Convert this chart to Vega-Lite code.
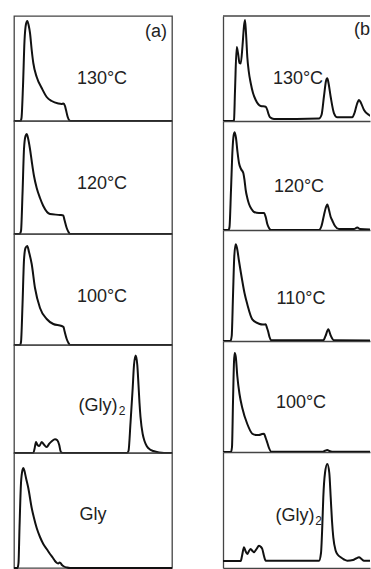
{
"$schema":"https://vega.github.io/schema/vega-lite/v6.json",
"background":"white",
"padding":{"left":9,"top":15,"right":0,"bottom":2},
"autosize":{"type":"pad"},
"config":{"view":{"stroke":"#444","strokeWidth":1.3},"axis":{"domain":false,"ticks":false,"labels":false,"grid":false,"minExtent":0,"maxExtent":0},"text":{"font":"Liberation Sans","fontSize":18,"color":"#222"}},
"datasets":{
"curves":[
{"p":"a1","x":0,"y":0},{"p":"a1","x":6.5,"y":0},{"p":"a1","x":7.5,"y":3},{"p":"a1","x":9,"y":35},{"p":"a1","x":10.5,"y":80},{"p":"a1","x":12,"y":97},{"p":"a1","x":13.3,"y":100},{"p":"a1","x":14.8,"y":95},{"p":"a1","x":16,"y":88},{"p":"a1","x":17.7,"y":71},{"p":"a1","x":19.3,"y":58},{"p":"a1","x":22.7,"y":44},{"p":"a1","x":27.7,"y":33},{"p":"a1","x":32.7,"y":24},{"p":"a1","x":37.7,"y":20},{"p":"a1","x":44.3,"y":17.5},{"p":"a1","x":47.5,"y":17},{"p":"a1","x":49.5,"y":17.5},{"p":"a1","x":51,"y":15},{"p":"a1","x":52,"y":11},{"p":"a1","x":53.7,"y":4},{"p":"a1","x":55.5,"y":0.5},{"p":"a1","x":57,"y":0},{"p":"a1","x":158,"y":0},
{"p":"a2","x":0,"y":0},{"p":"a2","x":5.5,"y":0},{"p":"a2","x":7,"y":3},{"p":"a2","x":8.5,"y":40},{"p":"a2","x":10,"y":85},{"p":"a2","x":11.5,"y":98},{"p":"a2","x":12.7,"y":100},{"p":"a2","x":14,"y":96},{"p":"a2","x":16,"y":85},{"p":"a2","x":17.7,"y":73},{"p":"a2","x":20,"y":58},{"p":"a2","x":22.7,"y":46},{"p":"a2","x":26,"y":36},{"p":"a2","x":29.3,"y":28},{"p":"a2","x":36,"y":20},{"p":"a2","x":46,"y":19},{"p":"a2","x":49.3,"y":18.5},{"p":"a2","x":50.5,"y":14},{"p":"a2","x":52.7,"y":6},{"p":"a2","x":54.5,"y":2},{"p":"a2","x":56,"y":0},{"p":"a2","x":158,"y":0},
{"p":"a3","x":0,"y":0},{"p":"a3","x":6,"y":0},{"p":"a3","x":7,"y":3},{"p":"a3","x":8.5,"y":40},{"p":"a3","x":10,"y":85},{"p":"a3","x":11.5,"y":97},{"p":"a3","x":13.3,"y":99},{"p":"a3","x":15,"y":93},{"p":"a3","x":17.7,"y":81},{"p":"a3","x":21,"y":57},{"p":"a3","x":26,"y":37},{"p":"a3","x":32.7,"y":26},{"p":"a3","x":39.3,"y":21},{"p":"a3","x":47.7,"y":19},{"p":"a3","x":49.5,"y":18},{"p":"a3","x":50.5,"y":14},{"p":"a3","x":52.7,"y":6},{"p":"a3","x":54.5,"y":2},{"p":"a3","x":56,"y":0},{"p":"a3","x":158,"y":0},
{"p":"a4","x":0,"y":0},{"p":"a4","x":19.3,"y":0},{"p":"a4","x":20.5,"y":4},{"p":"a4","x":22,"y":11},{"p":"a4","x":23.5,"y":8},{"p":"a4","x":25.3,"y":7},{"p":"a4","x":27.7,"y":11},{"p":"a4","x":29.5,"y":9},{"p":"a4","x":32.7,"y":6},{"p":"a4","x":35.3,"y":9.3},{"p":"a4","x":38,"y":12},{"p":"a4","x":41,"y":13.7},{"p":"a4","x":43.3,"y":12.7},{"p":"a4","x":45.3,"y":7.7},{"p":"a4","x":46.5,"y":2},{"p":"a4","x":47.7,"y":0.3},{"p":"a4","x":50,"y":0},{"p":"a4","x":113,"y":0},{"p":"a4","x":114.5,"y":2},{"p":"a4","x":116.5,"y":30},{"p":"a4","x":118.7,"y":65},{"p":"a4","x":120,"y":88},{"p":"a4","x":121.7,"y":97.5},{"p":"a4","x":123.3,"y":88},{"p":"a4","x":124.5,"y":68},{"p":"a4","x":125.5,"y":50},{"p":"a4","x":126.5,"y":36},{"p":"a4","x":128.7,"y":19},{"p":"a4","x":130.5,"y":12},{"p":"a4","x":132.7,"y":7},{"p":"a4","x":136,"y":3.5},{"p":"a4","x":139.3,"y":2},{"p":"a4","x":145,"y":0.5},{"p":"a4","x":150,"y":0},{"p":"a4","x":158,"y":0},
{"p":"a5","x":0,"y":0},{"p":"a5","x":3.5,"y":0},{"p":"a5","x":4.5,"y":5},{"p":"a5","x":5.5,"y":40},{"p":"a5","x":7,"y":85},{"p":"a5","x":8.5,"y":98},{"p":"a5","x":9.3,"y":100},{"p":"a5","x":10.5,"y":97},{"p":"a5","x":12,"y":90},{"p":"a5","x":14.3,"y":80},{"p":"a5","x":17.7,"y":60},{"p":"a5","x":20,"y":50},{"p":"a5","x":22.7,"y":40},{"p":"a5","x":26,"y":31},{"p":"a5","x":29.3,"y":24},{"p":"a5","x":32.7,"y":19},{"p":"a5","x":36,"y":14},{"p":"a5","x":39,"y":10},{"p":"a5","x":41,"y":7},{"p":"a5","x":43,"y":5},{"p":"a5","x":44.3,"y":4.5},{"p":"a5","x":45.5,"y":5.5},{"p":"a5","x":46.5,"y":5},{"p":"a5","x":48,"y":3},{"p":"a5","x":50,"y":1.5},{"p":"a5","x":53,"y":0.5},{"p":"a5","x":56,"y":0},{"p":"a5","x":158,"y":0},
{"p":"b1","x":0,"y":0},{"p":"b1","x":10,"y":0},{"p":"b1","x":11,"y":1},{"p":"b1","x":12,"y":30},{"p":"b1","x":13.7,"y":74},{"p":"b1","x":15,"y":68},{"p":"b1","x":16.5,"y":58},{"p":"b1","x":17.7,"y":57.5},{"p":"b1","x":19.5,"y":75},{"p":"b1","x":21,"y":95},{"p":"b1","x":22,"y":101},{"p":"b1","x":23,"y":88},{"p":"b1","x":24.3,"y":64},{"p":"b1","x":25.7,"y":50},{"p":"b1","x":27.7,"y":38},{"p":"b1","x":30,"y":28},{"p":"b1","x":32.7,"y":21},{"p":"b1","x":37.7,"y":15},{"p":"b1","x":42.7,"y":14.3},{"p":"b1","x":44.3,"y":11},{"p":"b1","x":45.5,"y":7},{"p":"b1","x":47,"y":3.7},{"p":"b1","x":51,"y":2},{"p":"b1","x":96,"y":2.5},{"p":"b1","x":98.5,"y":6},{"p":"b1","x":101,"y":25},{"p":"b1","x":103,"y":40},{"p":"b1","x":104.3,"y":42.7},{"p":"b1","x":105.5,"y":38},{"p":"b1","x":107.7,"y":24},{"p":"b1","x":111,"y":7.7},{"p":"b1","x":114.3,"y":3.7},{"p":"b1","x":129.3,"y":3.7},{"p":"b1","x":131.5,"y":8},{"p":"b1","x":134,"y":17},{"p":"b1","x":136,"y":21},{"p":"b1","x":138,"y":18},{"p":"b1","x":141,"y":11},{"p":"b1","x":146,"y":6},{"p":"b1","x":150,"y":4},
{"p":"b2","x":0,"y":0},{"p":"b2","x":5.5,"y":0},{"p":"b2","x":6.5,"y":3},{"p":"b2","x":8,"y":40},{"p":"b2","x":9.5,"y":80},{"p":"b2","x":10.7,"y":95},{"p":"b2","x":11.7,"y":97.8},{"p":"b2","x":13,"y":92},{"p":"b2","x":14.5,"y":78},{"p":"b2","x":16,"y":67},{"p":"b2","x":18,"y":61},{"p":"b2","x":20.3,"y":57},{"p":"b2","x":21.5,"y":50},{"p":"b2","x":22.7,"y":40},{"p":"b2","x":24.3,"y":32},{"p":"b2","x":26,"y":26},{"p":"b2","x":28.5,"y":21},{"p":"b2","x":31,"y":18},{"p":"b2","x":36,"y":17},{"p":"b2","x":41,"y":17},{"p":"b2","x":42.7,"y":13},{"p":"b2","x":44.3,"y":6},{"p":"b2","x":46,"y":2},{"p":"b2","x":48.3,"y":0},{"p":"b2","x":96,"y":0},{"p":"b2","x":98.5,"y":4},{"p":"b2","x":101,"y":15},{"p":"b2","x":102.7,"y":22},{"p":"b2","x":104.3,"y":25.5},{"p":"b2","x":106,"y":20},{"p":"b2","x":107.7,"y":13},{"p":"b2","x":109.3,"y":9.5},{"p":"b2","x":112,"y":4},{"p":"b2","x":116,"y":1},{"p":"b2","x":131,"y":1},{"p":"b2","x":134.3,"y":2.5},{"p":"b2","x":137,"y":1},{"p":"b2","x":150,"y":0.5},
{"p":"b3","x":0,"y":0},{"p":"b3","x":7.5,"y":0},{"p":"b3","x":8.7,"y":5},{"p":"b3","x":10,"y":45},{"p":"b3","x":11.3,"y":85},{"p":"b3","x":12.7,"y":96.7},{"p":"b3","x":14,"y":93},{"p":"b3","x":16,"y":80},{"p":"b3","x":19.3,"y":60},{"p":"b3","x":21.5,"y":48},{"p":"b3","x":24.3,"y":36.7},{"p":"b3","x":29.3,"y":21.7},{"p":"b3","x":36,"y":17.3},{"p":"b3","x":40,"y":16.5},{"p":"b3","x":42.7,"y":16.7},{"p":"b3","x":44,"y":13},{"p":"b3","x":45,"y":10},{"p":"b3","x":46.5,"y":4},{"p":"b3","x":48.3,"y":0.7},{"p":"b3","x":100.3,"y":0.7},{"p":"b3","x":102.5,"y":5},{"p":"b3","x":105.3,"y":11.7},{"p":"b3","x":107.5,"y":6},{"p":"b3","x":109.5,"y":2},{"p":"b3","x":111,"y":0.7},{"p":"b3","x":150,"y":0.5},
{"p":"b4","x":0,"y":0},{"p":"b4","x":8,"y":0},{"p":"b4","x":9,"y":5},{"p":"b4","x":10,"y":50},{"p":"b4","x":11,"y":90},{"p":"b4","x":11.7,"y":99},{"p":"b4","x":12.8,"y":95},{"p":"b4","x":14.3,"y":76},{"p":"b4","x":16.5,"y":58},{"p":"b4","x":19.3,"y":44},{"p":"b4","x":24.3,"y":28},{"p":"b4","x":29.3,"y":18.3},{"p":"b4","x":33,"y":17},{"p":"b4","x":36,"y":17},{"p":"b4","x":39,"y":18},{"p":"b4","x":41,"y":18.3},{"p":"b4","x":42.7,"y":14},{"p":"b4","x":44.3,"y":9.3},{"p":"b4","x":46,"y":4},{"p":"b4","x":48.3,"y":0.3},{"p":"b4","x":100,"y":0.3},{"p":"b4","x":102,"y":1.3},{"p":"b4","x":104.3,"y":2},{"p":"b4","x":106.5,"y":1},{"p":"b4","x":109,"y":0.3},{"p":"b4","x":150,"y":0.3},
{"p":"b5","x":0,"y":0},{"p":"b5","x":17.7,"y":0},{"p":"b5","x":19,"y":5},{"p":"b5","x":21,"y":13.7},{"p":"b5","x":22.5,"y":10},{"p":"b5","x":24.3,"y":7},{"p":"b5","x":26,"y":10},{"p":"b5","x":27.7,"y":12},{"p":"b5","x":29.5,"y":10},{"p":"b5","x":31,"y":8.7},{"p":"b5","x":33.5,"y":12},{"p":"b5","x":36,"y":15.3},{"p":"b5","x":38,"y":14},{"p":"b5","x":39.3,"y":12},{"p":"b5","x":41,"y":5},{"p":"b5","x":42.7,"y":0.3},{"p":"b5","x":96,"y":0.3},{"p":"b5","x":98,"y":8},{"p":"b5","x":99.3,"y":35},{"p":"b5","x":100.3,"y":63.7},{"p":"b5","x":102,"y":88},{"p":"b5","x":104.3,"y":97},{"p":"b5","x":106.3,"y":88},{"p":"b5","x":107.7,"y":63.7},{"p":"b5","x":109,"y":40},{"p":"b5","x":110.3,"y":23.7},{"p":"b5","x":112.7,"y":10.3},{"p":"b5","x":115,"y":6},{"p":"b5","x":117.7,"y":3.7},{"p":"b5","x":121,"y":1.5},{"p":"b5","x":124.3,"y":0.3},{"p":"b5","x":130,"y":1},{"p":"b5","x":133,"y":2.5},{"p":"b5","x":136,"y":3.7},{"p":"b5","x":138.5,"y":2},{"p":"b5","x":141,"y":0.3},{"p":"b5","x":150,"y":0.3}
],
"labels":[
{"p":"a1","x":88,"y":42,"t":"130°C"},{"p":"a2","x":88,"y":50,"t":"120°C"},{"p":"a3","x":88,"y":48,"t":"100°C"},{"p":"a4","x":84,"y":47,"t":"(Gly)"},{"p":"a5","x":79,"y":53,"t":"Gly"},
{"p":"b1","x":75,"y":42,"t":"130°C"},{"p":"b2","x":76,"y":43,"t":"120°C"},{"p":"b3","x":78,"y":42,"t":"110°C"},{"p":"b4","x":78,"y":49,"t":"100°C"},{"p":"b5","x":72,"y":45,"t":"(Gly)"}
],
"subs":[{"p":"a4","x":108,"y":42,"t":"2"},{"p":"b5","x":95.5,"y":40,"t":"2"}],
"tags":[{"p":"a1","x":153,"y":89,"t":"(a)"},{"p":"b1","x":131,"y":91,"t":"(b)"}]
},
"hconcat":[
{"vconcat":[
{"width":158,"height":105,"layer":[
{"data":{"name":"curves"},"transform":[{"filter":"datum.p=='a1'"}],"mark":{"type":"line","interpolate":"monotone","color":"#111","strokeWidth":2},"encoding":{"x":{"field":"x","type":"quantitative","scale":{"domain":[0,158],"nice":false,"zero":false},"axis":null},"y":{"field":"y","type":"quantitative","scale":{"domain":[0,105],"nice":false,"zero":false},"axis":null}}},
{"data":{"name":"labels"},"transform":[{"filter":"datum.p=='a1'"}],"mark":{"type":"text","align":"center","baseline":"middle"},"encoding":{"x":{"field":"x","type":"quantitative","scale":{"domain":[0,158],"nice":false,"zero":false},"axis":null},"y":{"field":"y","type":"quantitative","scale":{"domain":[0,105],"nice":false,"zero":false},"axis":null},"text":{"field":"t"}}},
{"data":{"name":"tags"},"transform":[{"filter":"datum.p=='a1'"}],"mark":{"type":"text","align":"right","baseline":"middle"},"encoding":{"x":{"field":"x","type":"quantitative","scale":{"domain":[0,158],"nice":false,"zero":false},"axis":null},"y":{"field":"y","type":"quantitative","scale":{"domain":[0,105],"nice":false,"zero":false},"axis":null},"text":{"field":"t"}}}
]},
{"width":158,"height":113,"layer":[
{"data":{"name":"curves"},"transform":[{"filter":"datum.p=='a2'"}],"mark":{"type":"line","interpolate":"monotone","color":"#111","strokeWidth":2},"encoding":{"x":{"field":"x","type":"quantitative","scale":{"domain":[0,158],"nice":false,"zero":false},"axis":null},"y":{"field":"y","type":"quantitative","scale":{"domain":[0,113],"nice":false,"zero":false},"axis":null}}},
{"data":{"name":"labels"},"transform":[{"filter":"datum.p=='a2'"}],"mark":{"type":"text","align":"center","baseline":"middle"},"encoding":{"x":{"field":"x","type":"quantitative","scale":{"domain":[0,158],"nice":false,"zero":false},"axis":null},"y":{"field":"y","type":"quantitative","scale":{"domain":[0,113],"nice":false,"zero":false},"axis":null},"text":{"field":"t"}}}
]},
{"width":158,"height":111,"layer":[
{"data":{"name":"curves"},"transform":[{"filter":"datum.p=='a3'"}],"mark":{"type":"line","interpolate":"monotone","color":"#111","strokeWidth":2},"encoding":{"x":{"field":"x","type":"quantitative","scale":{"domain":[0,158],"nice":false,"zero":false},"axis":null},"y":{"field":"y","type":"quantitative","scale":{"domain":[0,111],"nice":false,"zero":false},"axis":null}}},
{"data":{"name":"labels"},"transform":[{"filter":"datum.p=='a3'"}],"mark":{"type":"text","align":"center","baseline":"middle"},"encoding":{"x":{"field":"x","type":"quantitative","scale":{"domain":[0,158],"nice":false,"zero":false},"axis":null},"y":{"field":"y","type":"quantitative","scale":{"domain":[0,111],"nice":false,"zero":false},"axis":null},"text":{"field":"t"}}}
]},
{"width":158,"height":108,"layer":[
{"data":{"name":"curves"},"transform":[{"filter":"datum.p=='a4'"}],"mark":{"type":"line","interpolate":"monotone","color":"#111","strokeWidth":2},"encoding":{"x":{"field":"x","type":"quantitative","scale":{"domain":[0,158],"nice":false,"zero":false},"axis":null},"y":{"field":"y","type":"quantitative","scale":{"domain":[0,108],"nice":false,"zero":false},"axis":null}}},
{"data":{"name":"labels"},"transform":[{"filter":"datum.p=='a4'"}],"mark":{"type":"text","align":"center","baseline":"middle"},"encoding":{"x":{"field":"x","type":"quantitative","scale":{"domain":[0,158],"nice":false,"zero":false},"axis":null},"y":{"field":"y","type":"quantitative","scale":{"domain":[0,108],"nice":false,"zero":false},"axis":null},"text":{"field":"t"}}},
{"data":{"name":"subs"},"transform":[{"filter":"datum.p=='a4'"}],"mark":{"type":"text","align":"center","baseline":"middle","fontSize":12},"encoding":{"x":{"field":"x","type":"quantitative","scale":{"domain":[0,158],"nice":false,"zero":false},"axis":null},"y":{"field":"y","type":"quantitative","scale":{"domain":[0,108],"nice":false,"zero":false},"axis":null},"text":{"field":"t"}}}
]},
{"width":158,"height":115,"layer":[
{"data":{"name":"curves"},"transform":[{"filter":"datum.p=='a5'"}],"mark":{"type":"line","interpolate":"monotone","color":"#111","strokeWidth":2},"encoding":{"x":{"field":"x","type":"quantitative","scale":{"domain":[0,158],"nice":false,"zero":false},"axis":null},"y":{"field":"y","type":"quantitative","scale":{"domain":[0,115],"nice":false,"zero":false},"axis":null}}},
{"data":{"name":"labels"},"transform":[{"filter":"datum.p=='a5'"}],"mark":{"type":"text","align":"center","baseline":"middle"},"encoding":{"x":{"field":"x","type":"quantitative","scale":{"domain":[0,158],"nice":false,"zero":false},"axis":null},"y":{"field":"y","type":"quantitative","scale":{"domain":[0,115],"nice":false,"zero":false},"axis":null},"text":{"field":"t"}}}
]}
],"spacing":0,"bounds":"flush"},
{"vconcat":[
{"width":147,"height":105,"view":{"stroke":null},"layer":[
{"data":{"name":"curves"},"transform":[{"filter":"datum.p=='b1'"}],"mark":{"type":"line","interpolate":"monotone","color":"#111","strokeWidth":2,"clip":true},"encoding":{"x":{"field":"x","type":"quantitative","scale":{"domain":[0,147],"nice":false,"zero":false},"title":null,"axis":{"domain":true,"domainColor":"#444","domainWidth":1.3}},"y":{"field":"y","type":"quantitative","scale":{"domain":[0,105],"nice":false,"zero":false},"title":null,"axis":{"domain":true,"domainColor":"#444","domainWidth":1.3}}}},
{"data":{"name":"labels"},"transform":[{"filter":"datum.p=='b1'"}],"mark":{"type":"text","align":"center","baseline":"middle"},"encoding":{"x":{"field":"x","type":"quantitative","scale":{"domain":[0,147],"nice":false,"zero":false},"title":null},"y":{"field":"y","type":"quantitative","scale":{"domain":[0,105],"nice":false,"zero":false},"title":null},"text":{"field":"t"}}},
{"data":{"name":"tags"},"transform":[{"filter":"datum.p=='b1'"}],"mark":{"type":"text","align":"left","baseline":"middle","clip":true},"encoding":{"x":{"field":"x","type":"quantitative","scale":{"domain":[0,147],"nice":false,"zero":false},"title":null},"y":{"field":"y","type":"quantitative","scale":{"domain":[0,105],"nice":false,"zero":false},"title":null},"text":{"field":"t"}}},
{"data":{"name":"tags"},"transform":[{"filter":"datum.p=='b1'"}],"mark":{"type":"rule","color":"#444","strokeWidth":1.3},"encoding":{"y":{"datum":105,"type":"quantitative","scale":{"domain":[0,105],"nice":false,"zero":false},"title":null}}}
]},
{"width":147,"height":109,"view":{"stroke":null},"layer":[
{"data":{"name":"curves"},"transform":[{"filter":"datum.p=='b2'"}],"mark":{"type":"line","interpolate":"monotone","color":"#111","strokeWidth":2,"clip":true},"encoding":{"x":{"field":"x","type":"quantitative","scale":{"domain":[0,147],"nice":false,"zero":false},"title":null,"axis":{"domain":true,"domainColor":"#444","domainWidth":1.3}},"y":{"field":"y","type":"quantitative","scale":{"domain":[0,109],"nice":false,"zero":false},"title":null,"axis":{"domain":true,"domainColor":"#444","domainWidth":1.3}}}},
{"data":{"name":"labels"},"transform":[{"filter":"datum.p=='b2'"}],"mark":{"type":"text","align":"center","baseline":"middle"},"encoding":{"x":{"field":"x","type":"quantitative","scale":{"domain":[0,147],"nice":false,"zero":false},"title":null},"y":{"field":"y","type":"quantitative","scale":{"domain":[0,109],"nice":false,"zero":false},"title":null},"text":{"field":"t"}}}
]},
{"width":147,"height":111,"view":{"stroke":null},"layer":[
{"data":{"name":"curves"},"transform":[{"filter":"datum.p=='b3'"}],"mark":{"type":"line","interpolate":"monotone","color":"#111","strokeWidth":2,"clip":true},"encoding":{"x":{"field":"x","type":"quantitative","scale":{"domain":[0,147],"nice":false,"zero":false},"title":null,"axis":{"domain":true,"domainColor":"#444","domainWidth":1.3}},"y":{"field":"y","type":"quantitative","scale":{"domain":[0,111],"nice":false,"zero":false},"title":null,"axis":{"domain":true,"domainColor":"#444","domainWidth":1.3}}}},
{"data":{"name":"labels"},"transform":[{"filter":"datum.p=='b3'"}],"mark":{"type":"text","align":"center","baseline":"middle"},"encoding":{"x":{"field":"x","type":"quantitative","scale":{"domain":[0,147],"nice":false,"zero":false},"title":null},"y":{"field":"y","type":"quantitative","scale":{"domain":[0,111],"nice":false,"zero":false},"title":null},"text":{"field":"t"}}}
]},
{"width":147,"height":111,"view":{"stroke":null},"layer":[
{"data":{"name":"curves"},"transform":[{"filter":"datum.p=='b4'"}],"mark":{"type":"line","interpolate":"monotone","color":"#111","strokeWidth":2,"clip":true},"encoding":{"x":{"field":"x","type":"quantitative","scale":{"domain":[0,147],"nice":false,"zero":false},"title":null,"axis":{"domain":true,"domainColor":"#444","domainWidth":1.3}},"y":{"field":"y","type":"quantitative","scale":{"domain":[0,111],"nice":false,"zero":false},"title":null,"axis":{"domain":true,"domainColor":"#444","domainWidth":1.3}}}},
{"data":{"name":"labels"},"transform":[{"filter":"datum.p=='b4'"}],"mark":{"type":"text","align":"center","baseline":"middle"},"encoding":{"x":{"field":"x","type":"quantitative","scale":{"domain":[0,147],"nice":false,"zero":false},"title":null},"y":{"field":"y","type":"quantitative","scale":{"domain":[0,111],"nice":false,"zero":false},"title":null},"text":{"field":"t"}}}
]},
{"width":147,"height":116,"view":{"stroke":null},"layer":[
{"data":{"name":"curves"},"transform":[{"filter":"datum.p=='b5'"}],"mark":{"type":"line","interpolate":"monotone","color":"#111","strokeWidth":2,"clip":true},"encoding":{"x":{"field":"x","type":"quantitative","scale":{"domain":[0,147],"nice":false,"zero":false},"title":null,"axis":{"domain":true,"domainColor":"#444","domainWidth":1.3}},"y":{"field":"y","type":"quantitative","scale":{"domain":[-7,109],"nice":false,"zero":false},"title":null,"axis":{"domain":true,"domainColor":"#444","domainWidth":1.3}}}},
{"data":{"name":"labels"},"transform":[{"filter":"datum.p=='b5'"}],"mark":{"type":"text","align":"center","baseline":"middle"},"encoding":{"x":{"field":"x","type":"quantitative","scale":{"domain":[0,147],"nice":false,"zero":false},"title":null},"y":{"field":"y","type":"quantitative","scale":{"domain":[-7,109],"nice":false,"zero":false},"title":null},"text":{"field":"t"}}},
{"data":{"name":"subs"},"transform":[{"filter":"datum.p=='b5'"}],"mark":{"type":"text","align":"center","baseline":"middle","fontSize":12},"encoding":{"x":{"field":"x","type":"quantitative","scale":{"domain":[0,147],"nice":false,"zero":false},"title":null},"y":{"field":"y","type":"quantitative","scale":{"domain":[-7,109],"nice":false,"zero":false},"title":null},"text":{"field":"t"}}}
]}
],"spacing":0,"bounds":"flush"}
],
"spacing":45
}
